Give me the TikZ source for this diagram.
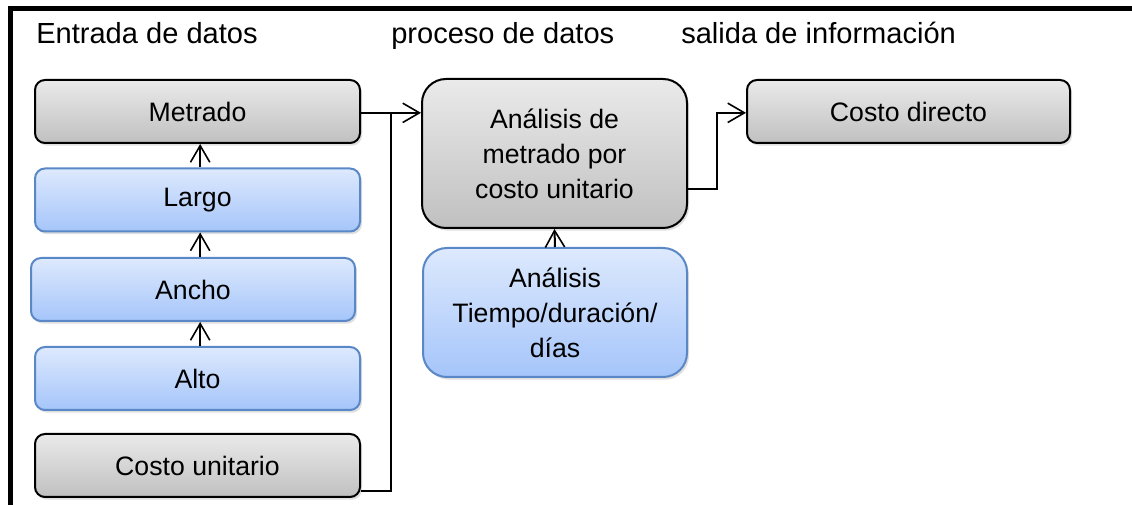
\documentclass[tikz,border=0pt]{standalone}
\usepackage{fontspec}
\setmainfont{Liberation Sans}
\usetikzlibrary{arrows.meta}
\usetikzlibrary{shadows}
\definecolor{graytop}{HTML}{EAEAEA}
\definecolor{graybot}{HTML}{C0C0C0}
\definecolor{bluetop}{HTML}{DDE9FD}
\definecolor{bluebot}{HTML}{A5C5FA}
\definecolor{blueline}{HTML}{5A87C5}
\tikzstyle{heading}=[anchor=base west, inner sep=0pt, font=\fontsize{21.8}{26}\selectfont]
\tikzstyle{graybox}=[draw=black, line width=1.5pt, rounded corners=7.5pt, top color=graytop, bottom color=graybot,
  drop shadow={shadow xshift=1.5pt, shadow yshift=-2pt, opacity=0.25}, inner sep=0pt, align=center,
  font=\fontsize{20}{26.25}\selectfont]
\tikzstyle{bluebox}=[graybox, draw=blueline, top color=bluetop, bottom color=bluebot]
\tikzstyle{conn}=[line width=1.5pt, -{Straight Barb[length=12.5pt, width=14.5pt, line width=1.2pt]}]
\tikzstyle{wire}=[line width=1.5pt]

\begin{document}
\begin{tikzpicture}[x=0.75pt, y=-0.75pt]
          \useasboundingbox (0,0) rectangle (1132,505);
          \draw[line width=3.75pt] (10,505) -- (10,8.5) -- (1132,8.5);
          \node[heading] (entrada) at (36,44) {Entrada de datos};
          \node[heading] (proceso) at (391,44) {proceso de datos};
          \node[heading] (salida) at (681,44) {salida de información};
          \node[graybox, minimum width=243.75pt, minimum height=47.25pt] (metrado) at (197.5,111.5) {Metrado};
          \node[bluebox, minimum width=243.75pt, minimum height=47.25pt] (largo) at (197.5,200) {Largo};
          \node[bluebox, minimum width=243pt, minimum height=47.25pt] (ancho) at (193,289.5) {Ancho};
          \node[bluebox, minimum width=243.75pt, minimum height=47.25pt] (alto) at (197.5,378.5) {Alto};
          \node[graybox, minimum width=243.75pt, minimum height=47.25pt] (costo) at (197.5,465.5) {Costo unitario};
          \node[graybox, rounded corners=18pt, minimum width=198.75pt, minimum height=111.75pt] (analisis) at (554.5,153.5)
            {\raisebox{3pt}{\parbox{190pt}{\centering Análisis de\\metrado por\\costo unitario}}};
          \node[bluebox, rounded corners=18pt, minimum width=198pt, minimum height=96.75pt] (tiempo) at (555,312.5)
            {\raisebox{-2pt}{\parbox{190pt}{\centering Análisis\\Tiempo/duración/\\días}}};
          \node[graybox, minimum width=242.25pt, minimum height=47.25pt] (directo) at (908.5,111.5) {Costo directo};
          \coordinate (bus) at (391,112.5);
          \foreach \a/\b in {alto/ancho, ancho/largo, largo/metrado}
            \draw[conn] ([xshift=2pt]\a.north -| metrado.south) -- ([xshift=2pt]\b.south -| metrado.south);
          \draw[conn] ([yshift=-1pt]metrado.east) -- ([yshift=-1pt]metrado.east -| analisis.west);
          \draw[wire] ([yshift=-19pt]costo.east) -| (bus);
          \draw[conn] (tiempo.north) -- (analisis.south);
          \draw[conn] ([yshift=-27pt]analisis.east) -- ++(29,0) |- ([yshift=-1pt]directo.west);
        \end{tikzpicture}
\end{document}
